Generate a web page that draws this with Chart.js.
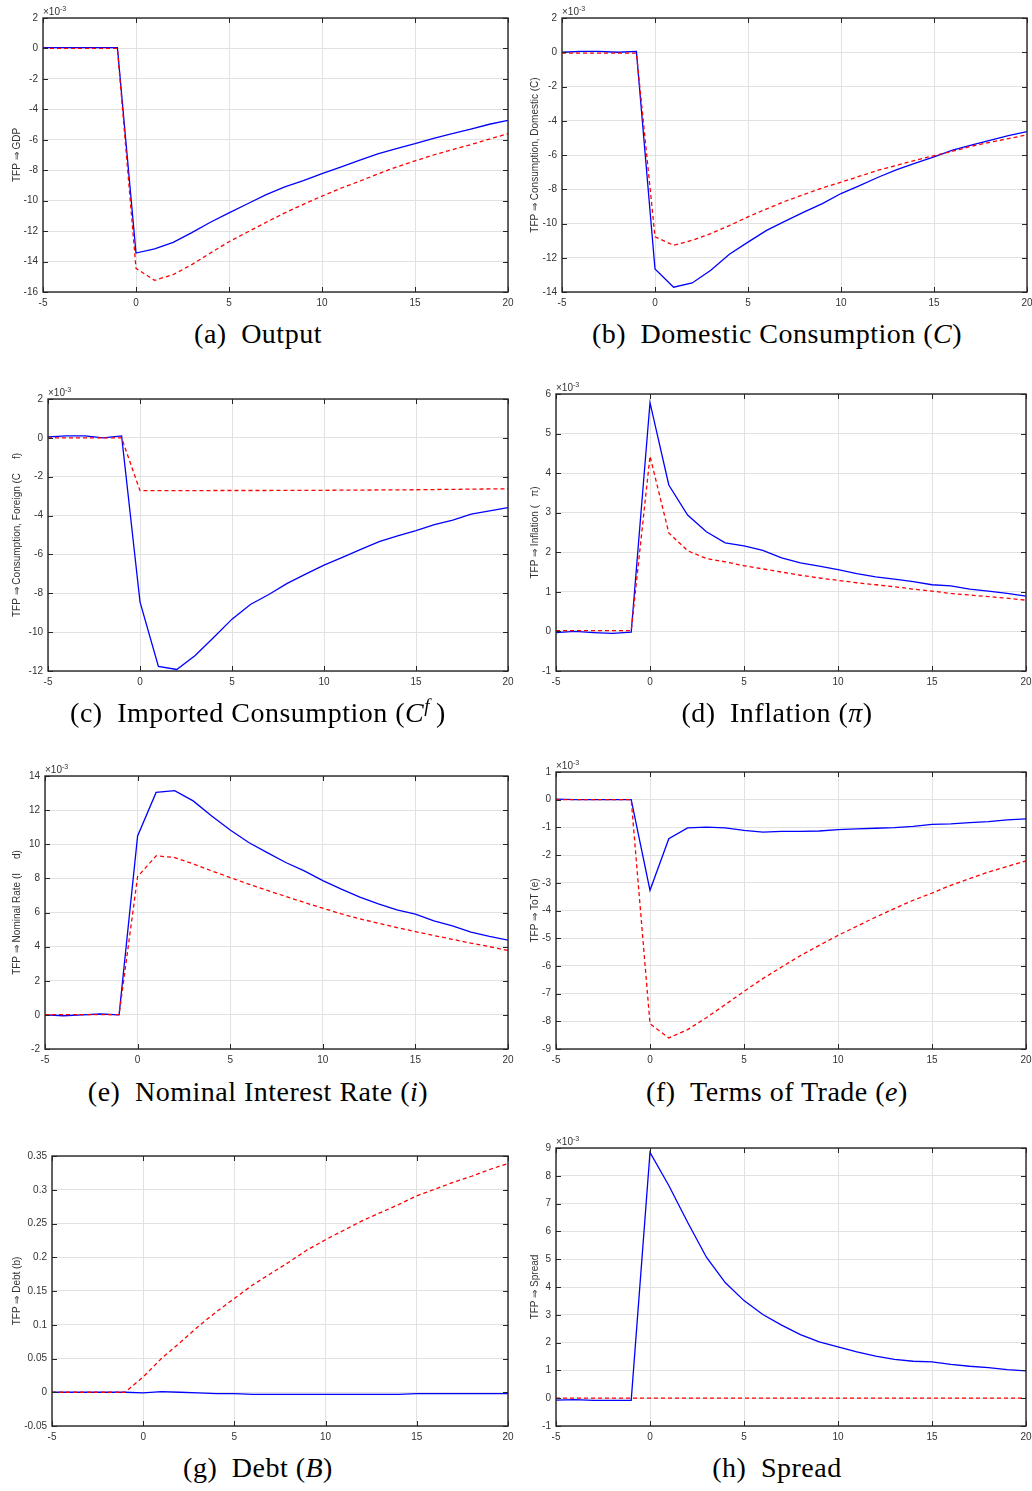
<!DOCTYPE html>
<html><head><meta charset="utf-8">
<script src="https://cdn.jsdelivr.net/npm/chart.js@4/dist/chart.umd.min.js"></script>
<style>
html,body{margin:0;padding:0;background:#fff;}
body{width:1032px;height:1491px;position:relative;overflow:hidden;}
canvas.panel{position:absolute;}
.mult{position:absolute;font:10px "Liberation Sans",Arial,sans-serif;color:#333;white-space:nowrap;line-height:10px;}
.mult sup{font-size:7px;position:relative;top:-2px;vertical-align:top;line-height:7px;}
.cap{position:absolute;text-align:center;font-family:"Liberation Serif",serif;font-size:28px;letter-spacing:0.5px;color:#000;line-height:30px;white-space:nowrap;}
.cap sup{font-size:19px;line-height:0;}
</style></head><body>
<script>
// ---------------- DATA ----------------
const periods = [-5,-4,-3,-2,-1,0,1,2,3,4,5,6,7,8,9,10,11,12,13,14,15,16,17,18,19,20];
const xTickValues = [-5,0,5,10,15,20];

// (a) Output, x10^-3
const outputSolid  = [0.05,0.05,0.05,0.05,0.05,-13.44,-13.17,-12.74,-12.1,-11.42,-10.8,-10.2,-9.6,-9.1,-8.69,-8.23,-7.8,-7.35,-6.93,-6.58,-6.26,-5.9,-5.6,-5.3,-4.98,-4.72];
const outputDashed = [0,0,0,0,0,-14.45,-15.23,-14.86,-14.2,-13.44,-12.7,-12.06,-11.42,-10.8,-10.24,-9.7,-9.19,-8.73,-8.25,-7.79,-7.39,-7.0,-6.65,-6.32,-5.95,-5.6];
const outputTicks  = [-16,-14,-12,-10,-8,-6,-4,-2,0,2];

// (b) Domestic consumption, x10^-3
const domConsSolid  = [0,0.05,0.05,0,0.05,-12.65,-13.72,-13.47,-12.73,-11.8,-11.09,-10.4,-9.86,-9.34,-8.84,-8.25,-7.79,-7.3,-6.85,-6.47,-6.11,-5.72,-5.43,-5.14,-4.87,-4.63];
const domConsDashed = [-0.05,-0.05,-0.05,-0.05,-0.05,-10.78,-11.27,-10.98,-10.59,-10.12,-9.61,-9.15,-8.7,-8.31,-7.92,-7.59,-7.24,-6.89,-6.6,-6.31,-6.04,-5.78,-5.49,-5.26,-5.04,-4.83];
const domConsTicks  = [-14,-12,-10,-8,-6,-4,-2,0,2];

// (c) Imported consumption, x10^-3
const impConsSolid  = [0.05,0.1,0.1,0,0.1,-8.44,-11.76,-11.92,-11.2,-10.28,-9.33,-8.58,-8.06,-7.49,-7.01,-6.55,-6.15,-5.74,-5.34,-5.05,-4.78,-4.47,-4.23,-3.92,-3.76,-3.59];
const impConsDashed = [0,0,0,0,0,-2.72,-2.72,-2.72,-2.72,-2.71,-2.71,-2.71,-2.71,-2.7,-2.7,-2.7,-2.69,-2.69,-2.68,-2.68,-2.67,-2.66,-2.65,-2.64,-2.63,-2.62];
const impConsTicks  = [-12,-10,-8,-6,-4,-2,0,2];

// (d) Inflation, x10^-3
const inflSolid  = [-0.03,0,-0.03,-0.05,-0.02,5.78,3.7,2.94,2.52,2.24,2.16,2.05,1.86,1.73,1.65,1.56,1.46,1.38,1.32,1.26,1.18,1.15,1.07,1.02,0.96,0.89];
const inflDashed = [0.02,0.02,0.02,0.02,0.02,4.43,2.49,2.04,1.84,1.76,1.66,1.58,1.5,1.42,1.35,1.29,1.23,1.18,1.13,1.07,1.02,0.96,0.92,0.88,0.84,0.79];
const inflTicks  = [-1,0,1,2,3,4,5,6];

// (e) Nominal interest rate, x10^-3
const rateSolid  = [0,-0.05,0,0.05,0,10.49,13.04,13.14,12.54,11.66,10.84,10.1,9.51,8.93,8.44,7.87,7.37,6.9,6.5,6.15,5.9,5.51,5.22,4.85,4.6,4.38];
const rateDashed = [0.02,0.02,0.02,0.02,0.02,8.1,9.32,9.22,8.85,8.44,8.05,7.66,7.29,6.94,6.59,6.25,5.92,5.63,5.37,5.12,4.88,4.65,4.43,4.2,4.0,3.77];
const rateTicks  = [-2,0,2,4,6,8,10,12,14];

// (f) Terms of trade, x10^-3
const totSolid  = [0.02,0,0,0,0,-3.27,-1.41,-1.02,-0.99,-1.02,-1.11,-1.17,-1.14,-1.14,-1.13,-1.08,-1.05,-1.03,-1.01,-0.96,-0.89,-0.87,-0.83,-0.79,-0.73,-0.69];
const totDashed = [0,0,0,0,0,-8.09,-8.6,-8.3,-7.87,-7.4,-6.92,-6.46,-6.04,-5.63,-5.26,-4.9,-4.57,-4.24,-3.93,-3.63,-3.37,-3.09,-2.85,-2.61,-2.41,-2.21];
const totTicks  = [-9,-8,-7,-6,-5,-4,-3,-2,-1,0,1];

// (g) Debt
const debtSolid  = [0,0,0,0,0,-0.001,0.001,0,-0.001,-0.002,-0.002,-0.003,-0.003,-0.003,-0.003,-0.003,-0.003,-0.003,-0.003,-0.003,-0.002,-0.002,-0.002,-0.002,-0.002,-0.002];
const debtDashed = [0,0,0,0,0,0.0227,0.05,0.073,0.097,0.119,0.139,0.159,0.176,0.193,0.211,0.226,0.24,0.254,0.266,0.278,0.291,0.301,0.311,0.32,0.33,0.339];
const debtTicks  = [-0.05,0,0.05,0.1,0.15,0.2,0.25,0.3,0.35];

// (h) Spread, x10^-3
const spreadSolid  = [-0.07,-0.05,-0.08,-0.08,-0.08,8.84,7.65,6.33,5.07,4.16,3.51,3.01,2.63,2.29,2.03,1.85,1.67,1.51,1.4,1.33,1.31,1.22,1.15,1.1,1.03,0.98];
const spreadDashed = [0,0,0,0,0,0,0,0,0,0,0,0,0,0,0,0,0,0,0,0,0,0,0,0,0,0];
const spreadTicks  = [-1,0,1,2,3,4,5,6,7,8,9];

const yTitles = ['TFP \u21D2 GDP','TFP \u21D2 Consumption, Domestic (C)','TFP \u21D2 Consumption, Foreign (C     f)','TFP \u21D2 Inflation (   \u03C0)','TFP \u21D2 Nominal Rate (I     d)','TFP \u21D2 ToT (e)','TFP \u21D2 Debt (b)','TFP \u21D2 Spread'];
const captions = ['(a)&ensp;Output','(b)&ensp;Domestic Consumption (<i>C</i>)','(c)&ensp;Imported Consumption (<i>C<sup>f</sup></i>&thinsp;)','(d)&ensp;Inflation (<i>\u03C0</i>)','(e)&ensp;Nominal Interest Rate (<i>i</i>)','(f)&ensp;Terms of Trade (<i>e</i>)','(g)&ensp;Debt (<i>B</i>)','(h)&ensp;Spread'];

// ---------------- LAYOUT ----------------
const panels = [
  {solid:outputSolid, dashed:outputDashed, ticks:outputTicks, mult:true, rect:[43,18,508,292]},
  {solid:domConsSolid, dashed:domConsDashed, ticks:domConsTicks, mult:true, rect:[562,18,1027,292]},
  {solid:impConsSolid, dashed:impConsDashed, ticks:impConsTicks, mult:true, rect:[48,399,508,671]},
  {solid:inflSolid, dashed:inflDashed, ticks:inflTicks, mult:true, rect:[556,394,1026,671]},
  {solid:rateSolid, dashed:rateDashed, ticks:rateTicks, mult:true, rect:[45,776,508,1049]},
  {solid:totSolid, dashed:totDashed, ticks:totTicks, mult:true, rect:[556,772,1026,1049]},
  {solid:debtSolid, dashed:debtDashed, ticks:debtTicks, mult:false, rect:[52,1156,508,1426]},
  {solid:spreadSolid, dashed:spreadDashed, ticks:spreadTicks, mult:true, rect:[556,1148,1026,1426]}
];
const captionY = [319,319,698,698,1077,1077,1453,1453];

const frame = {
  id:'frame',
  afterDraw(chart){
    const {ctx, chartArea:{left,top,right,bottom}, scales:{x,y}} = chart;
    ctx.save();
    ctx.strokeStyle='#262626';
    ctx.lineWidth=1;
    ctx.beginPath();
    const tl=5;
    x.ticks.forEach(t=>{const px=Math.round(x.getPixelForValue(t.value))+0.5; ctx.moveTo(px,bottom); ctx.lineTo(px,bottom-tl); ctx.moveTo(px,top); ctx.lineTo(px,top+tl);});
    y.ticks.forEach(t=>{const py=Math.round(y.getPixelForValue(t.value))+0.5; ctx.moveTo(left,py); ctx.lineTo(left+tl,py); ctx.moveTo(right,py); ctx.lineTo(right-tl,py);});
    ctx.stroke();
    ctx.lineWidth=1.4;
    ctx.strokeRect(left,top,right-left,bottom-top);
    ctx.restore();
  }
};

panels.forEach((p,i)=>{
  const col = i%2;
  const cLeft = col===0 ? 0 : 520;
  const cW = col===0 ? 520 : 512;
  const [L,T,R,B] = p.rect;
  const padTop = 12, xH = 26;
  const cTop = T - padTop;
  const cH = (B - T) + padTop + xH;
  const cv = document.createElement('canvas');
  cv.className='panel';
  cv.width=cW; cv.height=cH;
  cv.style.left=cLeft+'px'; cv.style.top=cTop+'px';
  cv.style.width=cW+'px'; cv.style.height=cH+'px';
  document.body.appendChild(cv);

  const tickFont = {family:'"Liberation Sans", Arial, sans-serif', size:10};
  new Chart(cv, {
    type:'line',
    data:{datasets:[
      {data: periods.map((x,k)=>({x, y:p.solid[k]})), borderColor:'#0000ff', borderWidth:1.3, pointRadius:0, tension:0, order:1, fill:false},
      {data: periods.map((x,k)=>({x, y:p.dashed[k]})), borderColor:'#ff0000', borderWidth:1.3, borderDash:[4,3], pointRadius:0, tension:0, order:0, fill:false}
    ]},
    options:{
      responsive:false, animation:false, devicePixelRatio:1,
      layout:{padding:{top:padTop, right:(cLeft+cW)-R, left:0, bottom:0}},
      plugins:{legend:{display:false}, tooltip:{enabled:false}},
      scales:{
        x:{type:'linear', min:-5, max:20,
           afterBuildTicks:s=>{s.ticks = xTickValues.map(v=>({value:v}));},
           afterFit:s=>{s.height=xH; s.paddingLeft=0; s.paddingRight=0;},
           ticks:{font:tickFont, color:'#333', padding:5, maxRotation:0, autoSkip:false, callback:v=>String(v)},
           grid:{color:'#e2e2e2', lineWidth:1, drawTicks:false},
           border:{display:false}},
        y:{type:'linear', min:p.ticks[0], max:p.ticks[p.ticks.length-1],
           afterBuildTicks:s=>{s.ticks = p.ticks.map(v=>({value:v}));},
           afterFit:s=>{s.width=L-cLeft; s.paddingTop=0; s.paddingBottom=0;},
           ticks:{font:tickFont, color:'#333', padding:5, autoSkip:false, callback:v=>String(v)},
           grid:{color:'#e2e2e2', lineWidth:1, drawTicks:false},
           border:{display:false},
           title:{display:true, text:yTitles[i], color:'#333', font:tickFont, padding:{top: col===0?11:9, bottom:0}}}
      }
    },
    plugins:[frame]
  });

  if (p.mult){
    const m = document.createElement('div');
    m.className='mult';
    m.style.left=L+'px'; m.style.top=(T-11)+'px';
    m.innerHTML='\u00D710<sup>-3</sup>';
    document.body.appendChild(m);
  }
  const c = document.createElement('div');
  c.className='cap';
  c.style.left=(col===0?0:520)+'px';
  c.style.width=(col===0?516:514)+'px';
  c.style.top=captionY[i]+'px';
  c.innerHTML=captions[i];
  document.body.appendChild(c);
});
</script>
</body></html>
